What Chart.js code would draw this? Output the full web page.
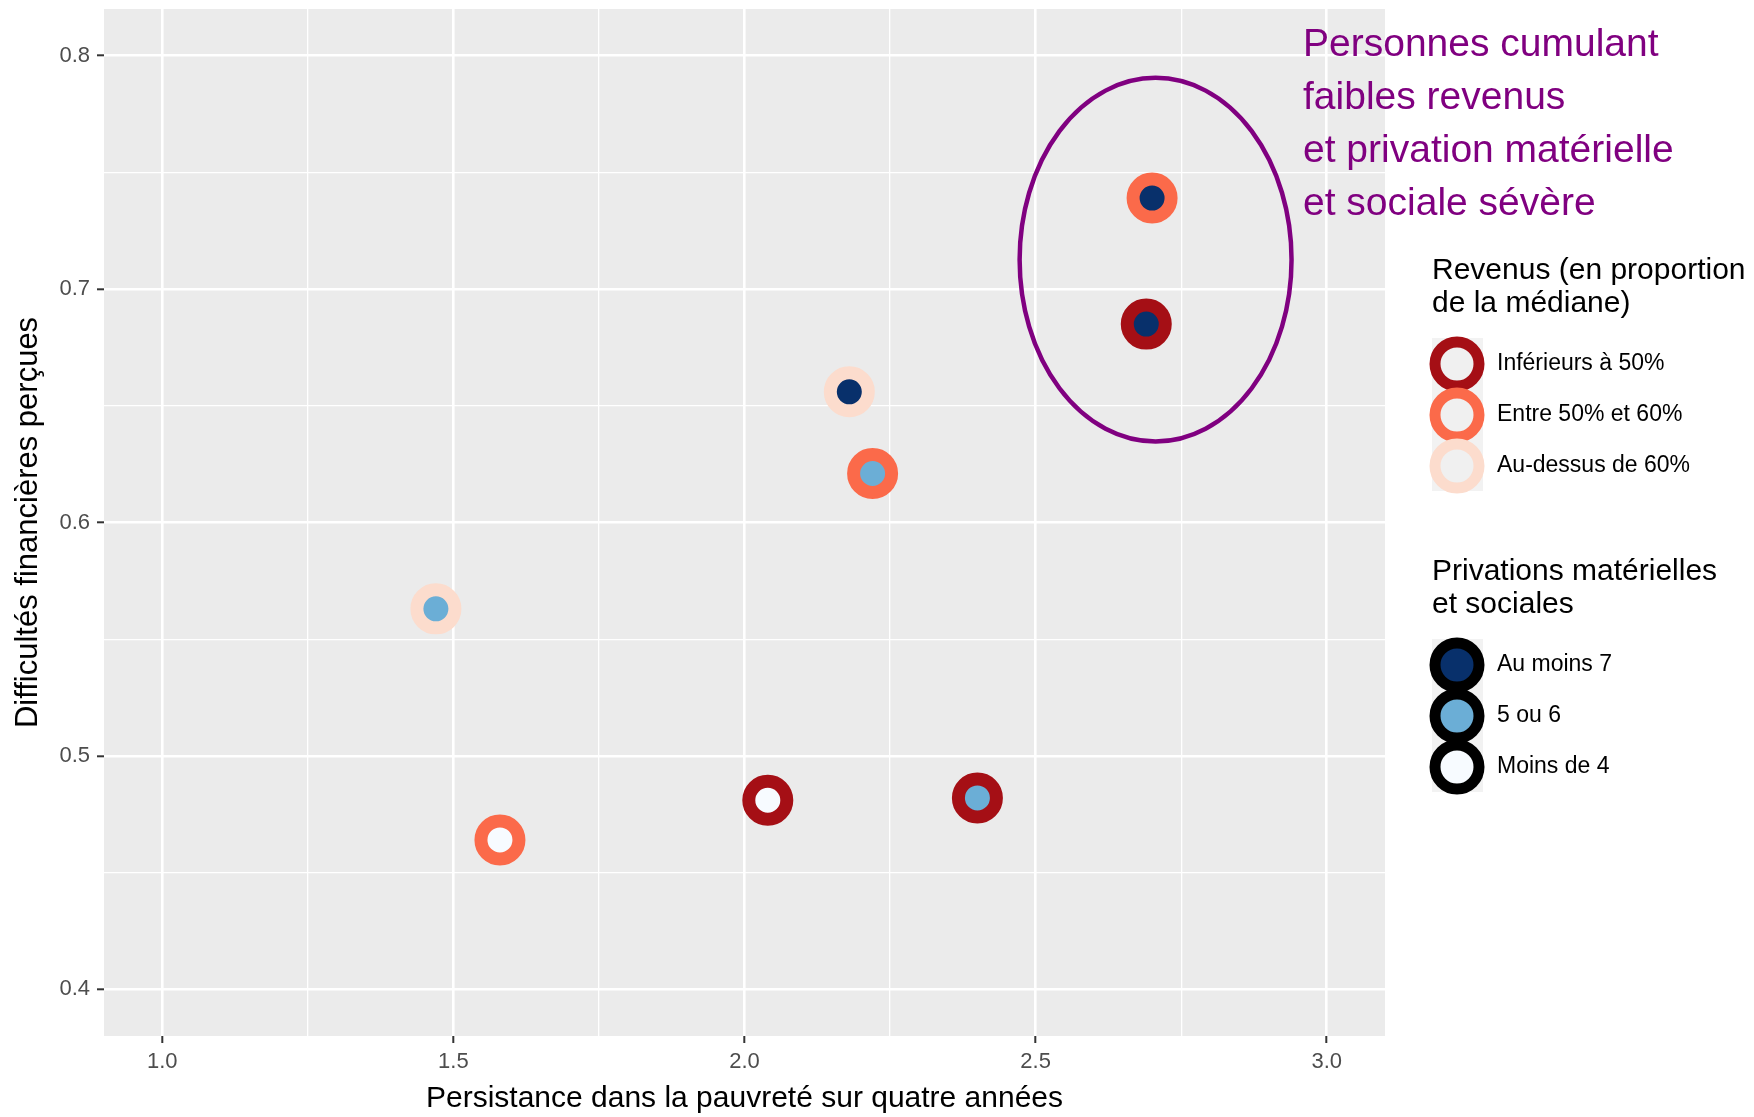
<!DOCTYPE html>
<html>
<head>
<meta charset="utf-8">
<script src="https://cdn.jsdelivr.net/npm/chart.js@4"></script>
<style>
  body { margin: 0; background: #fff; }
  canvas { display: block; }
</style>
</head>
<body>
<canvas id="myChart" width="1754" height="1117"></canvas>
<script>
// persistance dans la pauvreté (x) / difficultés financières perçues (y)
var persistance = [2.70, 2.69, 2.18, 2.22, 1.47, 2.04, 2.40, 1.58];
var difficultes = [0.739, 0.685, 0.656, 0.621, 0.563, 0.481, 0.482, 0.464];
// index into revenusLabels / privationsLabels
var revenusGroupe = [1, 0, 2, 1, 2, 0, 0, 1];
var privationsGroupe = [0, 0, 0, 1, 1, 2, 1, 2];

var revenusLabels = ['Inférieurs à 50%', 'Entre 50% et 60%', 'Au-dessus de 60%'];
var privationsLabels = ['Au moins 7', '5 ou 6', 'Moins de 4'];
var xTicks = [1.0, 1.5, 2.0, 2.5, 3.0];
var yTicks = [0.4, 0.5, 0.6, 0.7, 0.8];
var annotationLines = ['Personnes cumulant', 'faibles revenus', 'et privation matérielle', 'et sociale sévère'];

var revenusColors = ['#a50f15', '#fb6a4a', '#fcdccd'];
var privationsColors = ['#08306b', '#6baed6', '#f7fbff'];
var purple = '#800080';
var FONT = '"Liberation Sans", Arial, sans-serif';

// ellipse around the two "sévère" points, in data units
var ellipse = { x: 2.706, y: 0.7126, rx: 0.2335, ry: 0.0779 };

function withMinor(major) {
    var out = [];
    for (var i = 0; i < major.length; i++) {
        out.push(major[i]);
        if (i < major.length - 1) out.push((major[i] + major[i + 1]) / 2);
    }
    return out;
}
function isMajor(list, v) {
    return list.some(function (m) { return Math.abs(m - v) < 1e-6; });
}

var points = persistance.map(function (x, i) { return { x: x, y: difficultes[i] }; });

var panelPlugin = {
    id: 'panel',
    beforeDraw: function (chart) {
        var a = chart.chartArea, c = chart.ctx;
        c.save();
        c.fillStyle = '#ebebeb';
        c.fillRect(a.left, a.top, a.right - a.left, a.bottom - a.top);
        c.restore();
    },
    afterDatasetsDraw: function (chart) {
        var c = chart.ctx, xs = chart.scales.x, ys = chart.scales.y;
        var cx = xs.getPixelForValue(ellipse.x);
        var cy = ys.getPixelForValue(ellipse.y);
        var rx = xs.getPixelForValue(ellipse.x + ellipse.rx) - cx;
        var ry = cy - ys.getPixelForValue(ellipse.y + ellipse.ry);
        c.save();
        c.strokeStyle = purple;
        c.lineWidth = 4.5;
        c.beginPath();
        c.ellipse(cx, cy, rx, ry, 0, 0, Math.PI * 2);
        c.stroke();
        c.restore();
    },
    afterDraw: function (chart) {
        var c = chart.ctx;
        c.save();
        // annotation
        c.fillStyle = purple;
        c.font = '39px ' + FONT;
        c.textBaseline = 'middle';
        annotationLines.forEach(function (t, i) { c.fillText(t, 1303, 45 + 53 * i); });

        // legends
        function legend(titles, titleY, labels, keyY, stroke, fill) {
            c.fillStyle = '#000';
            c.font = '30px ' + FONT;
            titles.forEach(function (t, i) { c.fillText(t, 1432, titleY + 33 * i); });
            c.fillStyle = '#f2f2f2';
            c.fillRect(1432, keyY - 26, 51, 51 * labels.length);
            labels.forEach(function (lab, i) {
                var y = keyY + 51 * i;
                c.beginPath();
                c.arc(1457, y, 22, 0, Math.PI * 2);
                c.fillStyle = fill(i);
                c.fill();
                c.lineWidth = 11;
                c.strokeStyle = stroke(i);
                c.stroke();
                c.fillStyle = '#000';
                c.font = '23px ' + FONT;
                c.fillText(lab, 1497, y);
            });
        }
        legend(['Revenus (en proportion', 'de la médiane)'], 271, revenusLabels, 364,
            function (i) { return revenusColors[i]; }, function () { return '#f0f0f0'; });
        legend(['Privations matérielles', 'et sociales'], 572, privationsLabels, 665,
            function () { return '#000'; }, function (i) { return privationsColors[i]; });
        c.restore();
    }
};

function gridFor(major) {
    return {
        color: '#ffffff',
        lineWidth: function (ctx) { return ctx.tick && isMajor(major, ctx.tick.value) ? 2.6 : 1.3; },
        tickColor: function (ctx) { return ctx.tick && isMajor(major, ctx.tick.value) ? '#333333' : 'rgba(0,0,0,0)'; },
        tickWidth: 2,
        tickLength: 7,
        drawTicks: true
    };
}

var ctx = document.getElementById('myChart').getContext('2d');

var myChart = new Chart(ctx, {
    type: 'scatter',
    data: {
        datasets: [{
            data: points,
            pointRadius: 19,
            pointBorderWidth: 13,
            pointBackgroundColor: privationsGroupe.map(function (g) { return privationsColors[g]; }),
            pointBorderColor: revenusGroupe.map(function (g) { return revenusColors[g]; })
        }]
    },
    options: {
        responsive: false,
        devicePixelRatio: 1,
        animation: false,
        events: [],
        layout: { autoPadding: false, padding: { left: 0, top: 9, right: 369, bottom: 0 } },
        plugins: { legend: { display: false }, tooltip: { enabled: false } },
        scales: {
            x: {
                type: 'linear',
                min: 0.9,
                max: 3.1,
                afterBuildTicks: function (s) { s.ticks = withMinor(xTicks).map(function (v) { return { value: v }; }); },
                afterFit: function (s) { s.height = 81; s.paddingLeft = 0; s.paddingRight = 0; },
                border: { display: false },
                grid: gridFor(xTicks),
                ticks: {
                    padding: 6,
                    color: '#4d4d4d',
                    font: { family: FONT, size: 22 },
                    maxRotation: 0,
                    autoSkip: false,
                    callback: function (v) { return isMajor(xTicks, v) ? v.toFixed(1) : ''; }
                },
                title: {
                    display: true,
                    text: 'Persistance dans la pauvreté sur quatre années',
                    color: '#000',
                    font: { family: FONT, size: 30 },
                    padding: { top: 0, bottom: 0 }
                }
            },
            y: {
                type: 'linear',
                min: 0.38,
                max: 0.82,
                afterBuildTicks: function (s) { s.ticks = withMinor(yTicks).map(function (v) { return { value: v }; }); },
                afterFit: function (s) { s.width = 104; s.paddingTop = 0; s.paddingBottom = 0; },
                border: { display: false },
                grid: gridFor(yTicks),
                ticks: {
                    padding: 7,
                    color: '#4d4d4d',
                    font: { family: FONT, size: 22 },
                    autoSkip: false,
                    callback: function (v) { return isMajor(yTicks, v) ? v.toFixed(1) : ''; }
                },
                title: {
                    display: true,
                    text: 'Difficultés financières perçues',
                    color: '#000',
                    font: { family: FONT, size: 31 },
                    padding: { top: 10, bottom: 0 }
                }
            }
        }
    },
    plugins: [panelPlugin]
});
</script>
</body>
</html>
